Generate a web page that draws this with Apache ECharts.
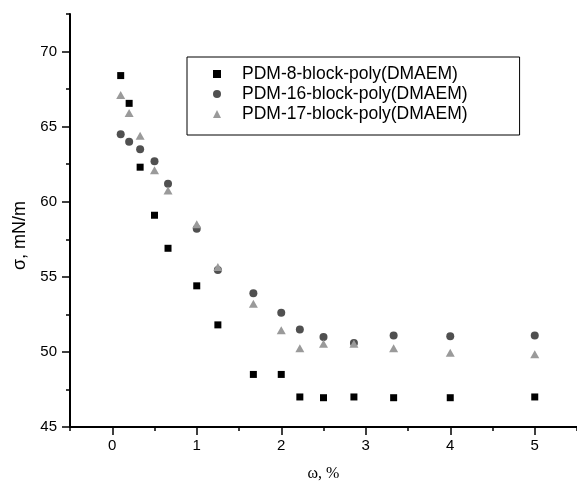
<!DOCTYPE html>
<html>
<head>
<meta charset="utf-8">
<script src="https://cdn.jsdelivr.net/npm/echarts@6/dist/echarts.min.js"></script>
<style>
html,body{margin:0;padding:0;background:#fff;}
#c{width:577px;height:483px;}
</style>
</head>
<body>
<div id="c"></div>
<script>
const seriesNames = ['PDM-8-block-poly(DMAEM)', 'PDM-16-block-poly(DMAEM)', 'PDM-17-block-poly(DMAEM)'];
const xPDM8 = [0.1, 0.2, 0.33, 0.5, 0.66, 1.0, 1.25, 1.67, 2.0, 2.22, 2.5, 2.86, 3.33, 4.0, 5.0];
const yPDM8 = [68.4, 66.55, 62.3, 59.1, 56.9, 54.4, 51.8, 48.5, 48.5, 47.0, 46.95, 47.0, 46.95, 46.95, 47.0];
const xPDM16 = [0.1, 0.2, 0.33, 0.5, 0.66, 1.0, 1.25, 1.67, 2.0, 2.22, 2.5, 2.86, 3.33, 4.0, 5.0];
const yPDM16 = [64.5, 64.0, 63.5, 62.7, 61.2, 58.2, 55.45, 53.9, 52.6, 51.5, 51.0, 50.6, 51.1, 51.05, 51.1];
const xPDM17 = [0.1, 0.2, 0.33, 0.5, 0.66, 1.0, 1.25, 1.67, 2.0, 2.22, 2.5, 2.86, 3.33, 4.0, 5.0];
const yPDM17 = [67.1, 65.9, 64.4, 62.1, 60.75, 58.5, 55.65, 53.2, 51.45, 50.25, 50.55, 50.55, 50.25, 49.95, 49.85];
const xMajorTicks = [0, 1, 2, 3, 4, 5];
const yMajorTicks = [45, 50, 55, 60, 65, 70];
const xTitle = 'ω, %';
const yTitle = 'σ, mN/m';

const zip = (xs, ys) => xs.map((x, i) => [x, ys[i]]);
const chart = echarts.init(document.getElementById('c'), null, {renderer: 'canvas'});
const axisFont = {fontFamily: 'Liberation Sans, Arial', fontSize: 15, color: '#000'};
const lineStyle = {color: '#000', width: 2};

chart.setOption({
  animation: false,
  backgroundColor: '#fff',
  grid: {left: 70, right: 0, top: 14, bottom: 56, containLabel: false, outerBoundsMode: 'none'},
  xAxis: [{
    type: 'value', min: -0.5, max: 5.5, interval: 0.5,
    axisLine: {show: true, lineStyle: lineStyle, onZero: false},
    axisTick: {show: true, length: 4, lineStyle: {color: '#000', width: 1.5}},
    axisLabel: Object.assign({show: true, margin: 11, customValues: xMajorTicks,
      formatter: v => (Math.abs(v - Math.round(v)) < 1e-6 ? String(Math.round(v)) : '')}, axisFont),
    splitLine: {show: false},
    name: xTitle, nameLocation: 'middle', nameGap: 39,
    nameTextStyle: {fontFamily: 'Liberation Serif, Times New Roman', fontSize: 16, color: '#000'}
  }, {
    type: 'value', min: -0.5, max: 5.5, interval: 0.5, position: 'bottom',
    axisLine: {show: false, onZero: false},
    axisTick: {show: true, length: 8, customValues: xMajorTicks, lineStyle: {color: '#000', width: 1.5}},
    axisLabel: {show: false},
    splitLine: {show: false}
  }],
  yAxis: [{
    type: 'value', min: 45, max: 72.5, interval: 2.5,
    axisLine: {show: true, lineStyle: lineStyle, onZero: false},
    axisTick: {show: true, length: 4, lineStyle: {color: '#000', width: 1.5}},
    axisLabel: Object.assign({show: true, margin: 13, customValues: yMajorTicks,
      formatter: v => (Math.abs(v / 5 - Math.round(v / 5)) < 1e-6 ? String(v) : '')}, axisFont),
    splitLine: {show: false},
    name: yTitle, nameLocation: 'middle', nameGap: 38, nameRotate: 90,
    nameTextStyle: {fontFamily: 'Liberation Sans, Arial', fontSize: 18, color: '#000', padding: [0, 30, 0, 0]}
  }, {
    type: 'value', min: 45, max: 72.5, interval: 2.5, position: 'left',
    axisLine: {show: false, onZero: false},
    axisTick: {show: true, length: 8, customValues: yMajorTicks, lineStyle: {color: '#000', width: 1.5}},
    axisLabel: {show: false},
    splitLine: {show: false}
  }],
  legend: {
    orient: 'vertical', left: 187, top: 57,
    padding: [8, 52, 12, 26],
    itemWidth: 8, itemHeight: 8, itemGap: 2,
    borderColor: '#000', borderWidth: 1, borderRadius: 0,
    backgroundColor: '#fff',
    textStyle: {fontFamily: 'Liberation Sans, Arial', fontSize: 17.5, color: '#000', lineHeight: 17, padding: [0, 0, 0, 16]},
    data: [
      {name: seriesNames[0], icon: 'rect', itemStyle: {color: '#000'}},
      {name: seriesNames[1], icon: 'circle', itemStyle: {color: '#505050'}},
      {name: seriesNames[2], icon: 'triangle', itemStyle: {color: '#9a9a9a'}}
    ]
  },
  series: [{
    name: seriesNames[0], type: 'scatter', symbol: 'rect', symbolSize: 7,
    itemStyle: {color: '#000', opacity: 1}, data: zip(xPDM8, yPDM8), z: 3
  }, {
    name: seriesNames[1], type: 'scatter', symbol: 'circle', symbolSize: 8,
    itemStyle: {color: '#505050', opacity: 1}, data: zip(xPDM16, yPDM16), z: 2
  }, {
    name: seriesNames[2], type: 'scatter', symbol: 'triangle', symbolSize: [9, 8],
    itemStyle: {color: '#9a9a9a', opacity: 1}, data: zip(xPDM17, yPDM17), z: 4
  }]
});
</script>
</body>
</html>
